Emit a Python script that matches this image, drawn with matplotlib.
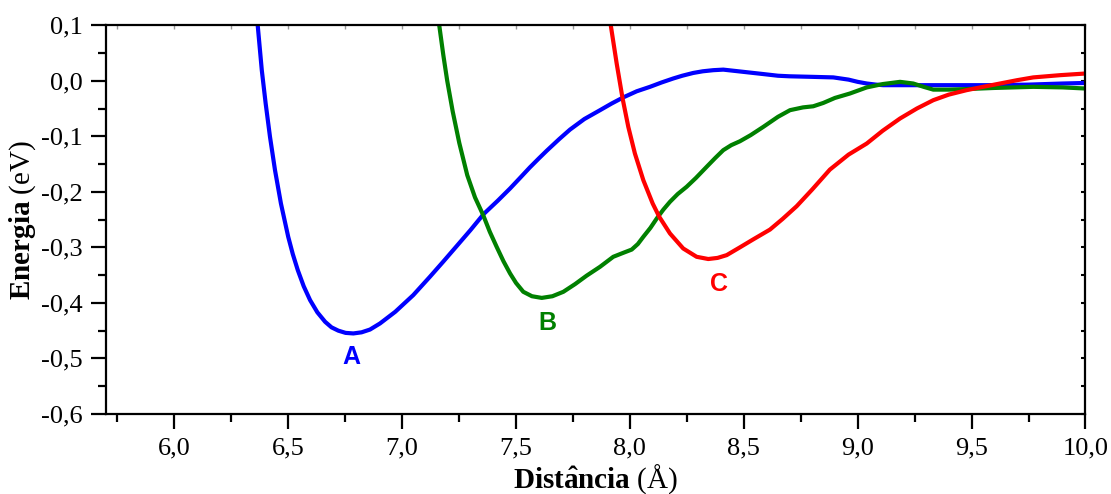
import matplotlib
matplotlib.use("Agg")
import matplotlib.pyplot as plt
from matplotlib.ticker import MultipleLocator, FuncFormatter

# ---- data ----
a_x = [6.366, 6.384, 6.401, 6.420, 6.442, 6.468, 6.500, 6.520, 6.542, 6.568, 6.596, 6.628, 6.662,
       6.690, 6.720, 6.752, 6.786, 6.822, 6.859, 6.903, 6.97, 7.049, 7.122, 7.18, 7.239, 7.30,
       7.358, 7.42, 7.474, 7.52, 7.561, 7.60, 7.635, 7.69, 7.737, 7.80, 7.869, 7.92, 7.971, 8.03,
       8.088, 8.14, 8.19, 8.23, 8.278, 8.32, 8.366, 8.41, 8.454, 8.52, 8.586, 8.65, 8.70, 8.80,
       8.893, 8.96, 9.00, 9.04, 9.08, 9.112, 9.2, 9.35, 9.566, 9.75, 9.9, 10.0]
a_y = [0.1, 0.019, -0.041, -0.101, -0.161, -0.221, -0.281, -0.312, -0.341, -0.370, -0.395, -0.417,
       -0.434, -0.444, -0.450, -0.454, -0.455, -0.453, -0.448, -0.437, -0.416, -0.386, -0.353,
       -0.326, -0.298, -0.269, -0.240, -0.216, -0.194, -0.174, -0.156, -0.140, -0.126, -0.105,
       -0.088, -0.069, -0.053, -0.041, -0.030, -0.019, -0.011, -0.003, 0.004, 0.009, 0.014,
       0.017, 0.019, 0.020, 0.018, 0.015, 0.012, 0.009, 0.008, 0.007, 0.006, 0.002, -0.002,
       -0.005, -0.007, -0.008, -0.008, -0.008, -0.008, -0.007, -0.005, -0.004]

b_x = [7.163, 7.181, 7.198, 7.222, 7.251, 7.286, 7.320, 7.356, 7.385, 7.415, 7.445, 7.474, 7.50,
       7.532, 7.57, 7.613, 7.66, 7.708, 7.76, 7.81, 7.869, 7.927, 7.97, 8.008, 8.035, 8.059, 8.09,
       8.118, 8.147, 8.176, 8.21, 8.249, 8.29, 8.337, 8.375, 8.410, 8.445, 8.483, 8.53, 8.586,
       8.65, 8.703, 8.76, 8.805, 8.849, 8.90, 8.966, 9.04, 9.11, 9.186, 9.244, 9.29, 9.332, 9.40,
       9.478, 9.6, 9.771, 9.9, 10.0]
b_y = [0.1, 0.046, 0.000, -0.055, -0.112, -0.170, -0.210, -0.242, -0.272, -0.299, -0.325, -0.347,
       -0.364, -0.380, -0.388, -0.391, -0.388, -0.380, -0.366, -0.351, -0.335, -0.317, -0.310,
       -0.304, -0.294, -0.281, -0.265, -0.248, -0.232, -0.218, -0.204, -0.191, -0.175, -0.155,
       -0.139, -0.125, -0.116, -0.109, -0.098, -0.083, -0.065, -0.053, -0.048, -0.046, -0.040,
       -0.031, -0.023, -0.012, -0.006, -0.002, -0.005, -0.011, -0.016, -0.016, -0.015, -0.013,
       -0.011, -0.012, -0.014]

c_x = [7.916, 7.942, 7.968, 7.993, 8.022, 8.059, 8.100, 8.129, 8.176, 8.234, 8.293, 8.344, 8.385,
       8.425, 8.483, 8.54, 8.615, 8.67, 8.732, 8.80, 8.878, 8.96, 9.04, 9.11, 9.186, 9.26, 9.332,
       9.40, 9.478, 9.55, 9.625, 9.70, 9.771, 9.888, 10.0]
c_y = [0.1, 0.031, -0.032, -0.083, -0.131, -0.179, -0.221, -0.245, -0.275, -0.302, -0.317, -0.321,
       -0.319, -0.314, -0.300, -0.286, -0.268, -0.249, -0.226, -0.196, -0.160, -0.133, -0.113,
       -0.09, -0.068, -0.050, -0.035, -0.025, -0.017, -0.011, -0.005, 0.001, 0.006, 0.010, 0.013]

labels = ["A", "B", "C"]
label_pos = [(6.777, -0.497), (7.637, -0.436), (8.392, -0.366)]
colors = ["#0000ff", "#008000", "#ff0000"]

plt.rcParams["font.family"] = ["Liberation Serif", "DejaVu Serif"]
plt.rcParams["mathtext.fontset"] = "custom"
plt.rcParams["mathtext.rm"] = "Liberation Serif"
plt.rcParams["mathtext.bf"] = "Liberation Serif:bold"

fig = plt.figure(figsize=(11.11, 4.94), dpi=100)
ax = fig.add_axes([0.0954, 0.162, 0.8816, 0.787])

for xs, ys, col in zip([a_x, b_x, c_x], [a_y, b_y, c_y], colors):
    ax.plot(xs, ys, color=col, lw=3, solid_joinstyle="round", solid_capstyle="butt")

for lab, (lx, ly), col in zip(labels, label_pos, colors):
    ax.text(lx, ly, lab, color=col, fontsize=18, fontweight="bold",
            family="Liberation Sans", ha="center", va="center")

ax.set_xlim(5.70, 10.0)
ax.set_ylim(-0.6, 0.1)

ax.xaxis.set_major_locator(MultipleLocator(0.5))
ax.xaxis.set_minor_locator(MultipleLocator(0.25))
ax.yaxis.set_major_locator(MultipleLocator(0.1))
ax.yaxis.set_minor_locator(MultipleLocator(0.05))

fmt = FuncFormatter(lambda v, p: ("%.1f" % v).replace(".", ",").replace("-0,0", "0,0"))
ax.xaxis.set_major_formatter(fmt)
ax.yaxis.set_major_formatter(fmt)

for sp in ax.spines.values():
    sp.set_linewidth(1.6)

ax.tick_params(axis="both", which="major", direction="out", length=11, width=1.6,
               labelsize=19, pad=6)
ax.tick_params(axis="both", which="minor", direction="out", length=6, width=1.6)

# small inward ticks on top and right
axt = ax.secondary_xaxis("top")
axt.xaxis.set_major_locator(MultipleLocator(0.25))
axt.tick_params(direction="in", length=3, width=1, labeltop=False, colors="#999999")
axt.spines["top"].set_visible(False)
axr = ax.secondary_yaxis("right")
axr.yaxis.set_major_locator(MultipleLocator(0.05))
axr.tick_params(direction="in", length=3, width=1.5, labelright=False)
axr.spines["right"].set_visible(False)

ax.set_xlabel(r"$\mathbf{Dist\hat{a}ncia}$ $\mathrm{(\AA)}$", fontsize=21, labelpad=2)
ax.set_ylabel(r"$\mathbf{Energia}$ $\mathrm{(eV)}$", fontsize=21, labelpad=2)

fig.savefig("out.png", dpi=100)
